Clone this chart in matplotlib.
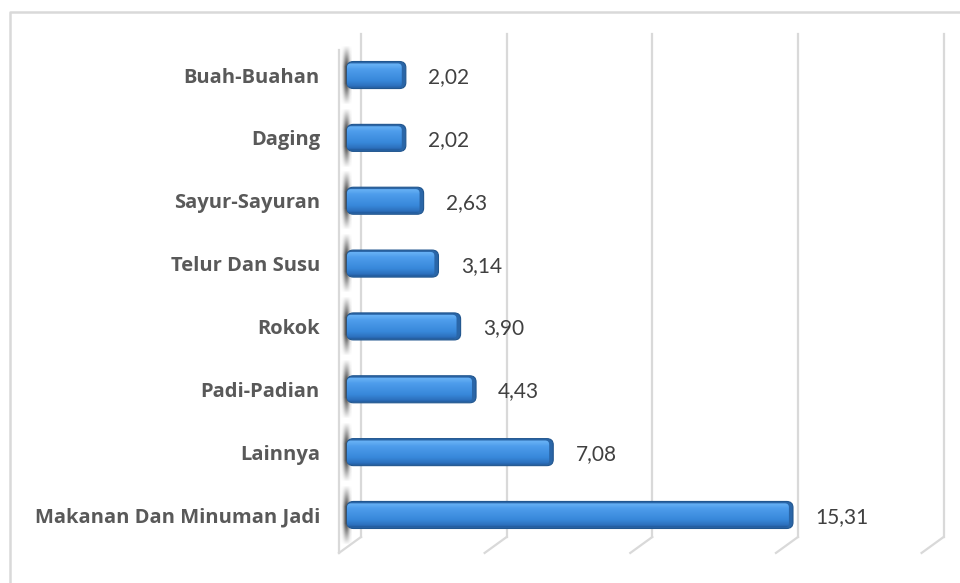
import numpy as np
import matplotlib
matplotlib.use('Agg')
import matplotlib.pyplot as plt
from matplotlib.patches import FancyBboxPatch
from matplotlib.lines import Line2D
from matplotlib.colors import LinearSegmentedColormap
from matplotlib.transforms import ScaledTranslation

# data (bottom to top)
categories = ['Makanan Dan Minuman Jadi', 'Lainnya', 'Padi-Padian', 'Rokok',
              'Telur Dan Susu', 'Sayur-Sayuran', 'Daging', 'Buah-Buahan']
values = [15.31, 7.08, 4.43, 3.90, 3.14, 2.63, 2.02, 2.02]
grid_ticks = [0, 5, 10, 15, 20]

plt.rcParams['font.family'] = ['Lato', 'DejaVu Sans']

W, H = 960, 583
fig = plt.figure(figsize=(W / 100, H / 100), dpi=100)
fig.patch.set_facecolor('white')

# axes placed so that the bar plane matches the reference
ax_left, ax_top, ax_bottom = 347, 43.6, 546.4
ax = fig.add_axes([ax_left / W, (H - ax_bottom) / H, 582.6 / W, (ax_bottom - ax_top) / H])
ax.set_xlim(0, 20)
ax.set_ylim(-0.5, len(categories) - 0.5)
for s in ax.spines.values():
    s.set_visible(False)
ax.set_xticks([])
ax.set_yticks(range(len(categories)))
ax.set_yticklabels(categories, fontsize=14.5, fontweight='bold', color='#595959',
                   family=['Open Sans', 'DejaVu Sans'])
ax.tick_params(axis='y', length=0, pad=19.5)
ax.patch.set_alpha(0)

# 3D-ish walls: back plane is shifted right, front plane left/down
def shifted(dx, dy=0):
    return ax.get_xaxis_transform() + ScaledTranslation(dx / 100, dy / 100, fig.dpi_scale_trans)

grid_col = '#d9d9d9'
y_back_top, y_back_bot, y_front_bot, y_front_top = 1.019, 0.0187, -0.013, 0.987
back = shifted(14)
front = shifted(-8)
for t in grid_ticks:
    ax.plot([t, t], [y_back_bot, y_back_top], color=grid_col, lw=1.6, transform=back,
            clip_on=False, zorder=0.5)
# diagonal floor lines (back bottom -> front bottom)
for t in grid_ticks:
    p0 = back.transform((t, y_back_bot))
    p1 = front.transform((t, y_front_bot))
    fig.add_artist(Line2D([p0[0] / W, p1[0] / W], [p0[1] / H, p1[1] / H],
                          color=grid_col, lw=1.6, transform=fig.transFigure))
# front edge of the left wall
ax.plot([0, 0], [y_front_bot, y_front_top], color=grid_col, lw=1.6, transform=front,
        clip_on=False, zorder=0.5)

bar_h = 0.43
cmap = LinearSegmentedColormap.from_list(
    'bar3d', [(0, '#2e6cb0'), (0.08, '#6bb4f6'), (0.3, '#4d9ceb'),
              (0.7, '#3888da'), (0.9, '#2c70bd'), (1, '#1d4f8c')])
grad = np.linspace(0, 1, 64).reshape(-1, 1)

# shadow image for wall
sx = np.linspace(-1, 1, 40)
sy = np.linspace(-1, 1, 60)
SX, SY = np.meshgrid(sx, sy)
shadow = np.zeros((60, 40, 4))
shadow[..., :3] = 0.25
shadow[..., 3] = 0.95 * np.exp(-((SX - 0.1) / 0.55) ** 2) * np.clip(1.4 - np.abs(SY) * 1.4, 0, 1)

for i, v in enumerate(values):
    # shadow on left wall
    ax.imshow(shadow, extent=(-0.24, 0.14, i - bar_h * 1.1, i + bar_h * 1.1),
              aspect='auto', zorder=1, interpolation='bilinear', clip_on=False)
    # bar body (dark, gives end cap)
    body = FancyBboxPatch((0, i - bar_h / 2), v, bar_h,
                          boxstyle='round,pad=0,rounding_size=0.22',
                          mutation_aspect=0.44, facecolor='#2a66a8',
                          edgecolor='#21568f', lw=0.8, zorder=2, clip_on=False)
    ax.add_patch(body)
    face = FancyBboxPatch((0, i - bar_h / 2 + 0.02), v - 0.14, bar_h - 0.05,
                          boxstyle='round,pad=0,rounding_size=0.14',
                          mutation_aspect=0.44, facecolor='none', lw=0, zorder=3)
    ax.add_patch(face)
    im = ax.imshow(grad, extent=(0, v - 0.14, i - bar_h / 2, i + bar_h / 2),
                   aspect='auto', cmap=cmap, origin='upper', zorder=3,
                   interpolation='bilinear')
    im.set_clip_path(face)
    ax.annotate(f'{v:.2f}'.replace('.', ','), xy=(v, i), xytext=(16, -1.5),
                textcoords='offset points', va='center', ha='left',
                fontsize=15, color='#404040', zorder=4)

ax.set_xlim(0, 20)
ax.set_ylim(-0.5, len(categories) - 0.5)

# outer chart frame (top and left edges visible)
fig.add_artist(Line2D([10 / W, 10 / W, 1.0], [0.0, 1 - 12 / H, 1 - 12 / H],
                      color='#d9d9d9', lw=1.8, transform=fig.transFigure))

fig.savefig('out.png', dpi=100)
